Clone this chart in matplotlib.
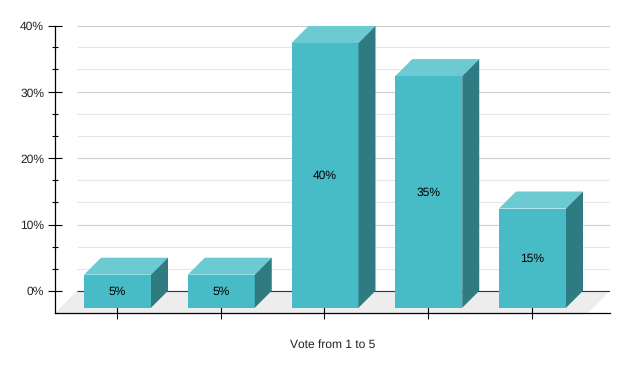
import matplotlib
matplotlib.use("Agg")
import matplotlib.pyplot as plt
import numpy as np

plt.rcParams['font.family'] = ['Liberation Sans', 'DejaVu Sans']
plt.rcParams['text.hinting'] = 'no_hinting'
plt.rcParams['text.hinting_factor'] = 1

categories = [1, 2, 3, 4, 5]
votes = [5, 5, 40, 35, 15]
value_labels = ["5%", "5%", "40%", "35%", "15%"]
major_ticks = [0, 10, 20, 30, 40]
major_labels = ["0%", "10%", "20%", "30%", "40%"]
minor_ticks = [3.33, 6.67, 13.4, 16.75, 23.33, 26.67, 33.5, 36.8]
x_title = "Vote from 1 to 5"

W, H = 629, 371
px_per_cat = 103.75
px_per_pct = 6.62
bar_depth = 17  # px
bar_width = 67 / px_per_cat
first_tick = 116.8  # px
bar_shift = 0.7 / px_per_cat

fig = plt.figure(figsize=(W / 100, H / 100), dpi=100, facecolor="white")
# axes box in pixels: left 55.2, right 610, top 26, bottom 313
ax = fig.add_axes([55.2 / W, 1 - 313 / H, (610 - 55.2) / W, (313 - 26) / H])

ax.set_xlim((55.2 - first_tick) / px_per_cat, (610 - first_tick) / px_per_cat)
ax.set_ylim(-(313 - 290.8) / px_per_pct, 40)

x = np.arange(len(categories))
dx = bar_depth / px_per_cat
dy = bar_depth / px_per_pct
wall_x = (77 - first_tick) / px_per_cat
right_x = ax.get_xlim()[1]
front_right = (588 - first_tick) / px_per_cat

# floor
ax.fill([ax.get_xlim()[0], wall_x, right_x, front_right],
        [ax.get_ylim()[0], 0, 0, ax.get_ylim()[0]],
        color="#ededed", lw=0, zorder=1)

# back wall gridlines
ax.hlines(minor_ticks, wall_x, right_x, color="#e6e6e6", lw=0.8, zorder=1)
ax.hlines(major_ticks[1:], wall_x, right_x, color="#cccccc", lw=0.8, zorder=1)
ax.hlines(0, wall_x, right_x, color="#333333", lw=0.8, zorder=2)

# bars: front, top and side faces
base = -dy
for xi, v, lab in zip(x, votes, value_labels):
    left = xi + bar_shift - bar_width / 2
    right = xi + bar_shift + bar_width / 2
    top = base + v
    ax.fill([left, right, right, left], [base, base, top, top],
            color="#47bcc7", lw=0, zorder=3)
    ax.fill([left, right, right + dx, left + dx], [top, top, top + dy, top + dy],
            color="#6ccad3", lw=0, zorder=3, clip_on=False)
    ax.fill([right, right + dx, right + dx, right], [base, base + dy, top + dy, top],
            color="#2e7c82", lw=0, zorder=3, clip_on=False)
    ax.text(xi + bar_shift, base + v / 2 - 0.05, lab, ha="center", va="center", fontsize=8.8,
            color="#000000", zorder=4)

for side in ["top", "right"]:
    ax.spines[side].set_visible(False)
for side in ["left", "bottom"]:
    ax.spines[side].set_linewidth(0.9)
    ax.spines[side].set_zorder(5)

ax.set_yticks(major_ticks)
ax.set_yticklabels(major_labels, fontsize=8.8, color="#222222")
ax.set_yticks(minor_ticks, minor=True)
ax.tick_params(axis="y", which="major", direction="inout", length=9.4, width=0.8, pad=3.2)
ax.tick_params(axis="y", which="minor", direction="inout", length=5, width=0.8)

ax.set_xticks(x)
ax.set_xticklabels([""] * len(x))
ax.tick_params(axis="x", which="major", direction="inout", length=8, width=0.8)

ax.set_xlabel(x_title, fontsize=8.8, color="#222222", labelpad=11.5)

fig.savefig("out.png", dpi=100, facecolor="white")
